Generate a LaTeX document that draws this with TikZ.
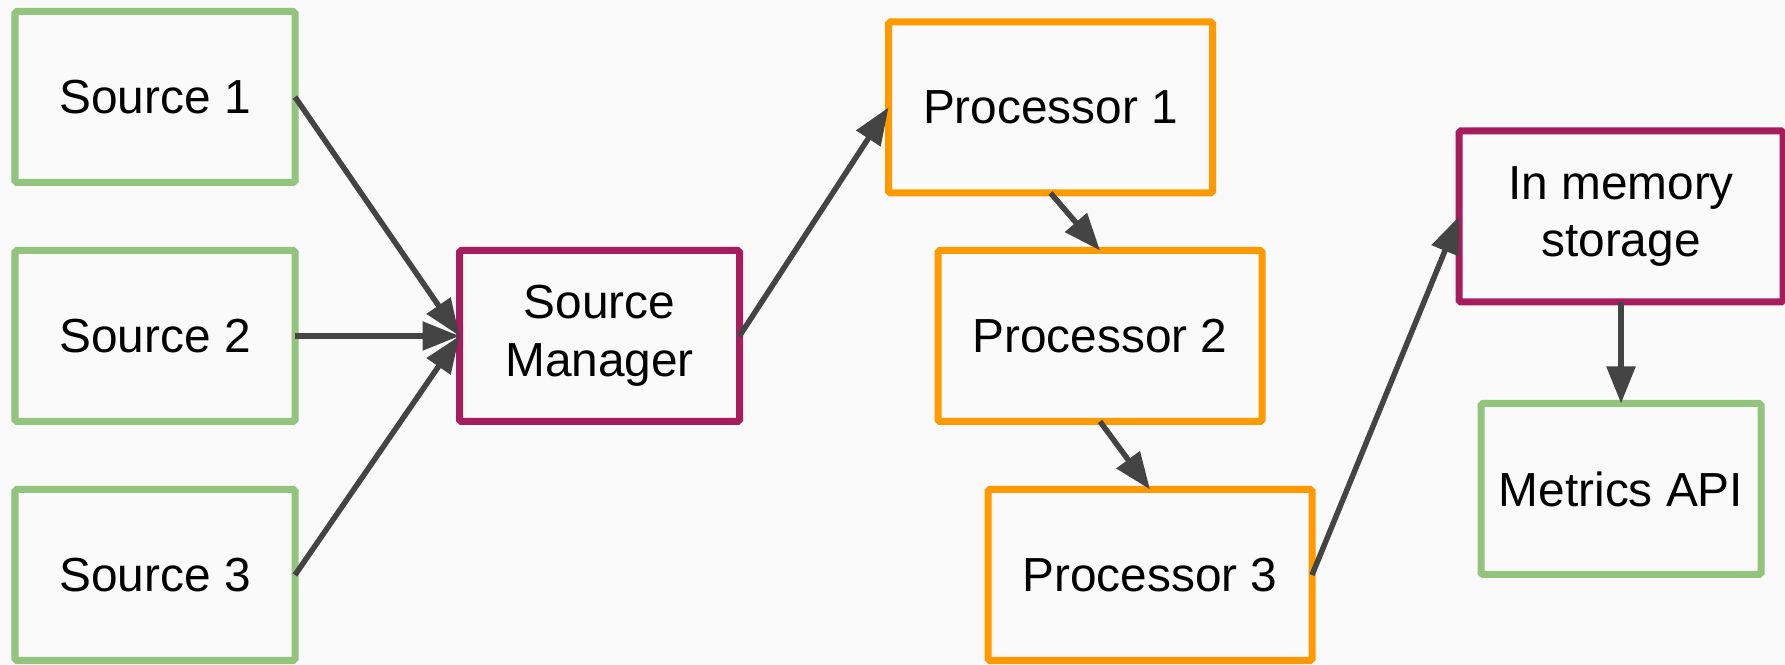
\documentclass[tikz,border=0pt]{standalone}
\usepackage{fontspec}
\setmainfont{Liberation Sans}
\usetikzlibrary{arrows.meta}
\definecolor{srcgreen}{HTML}{93C47D}
\definecolor{mgrpurple}{HTML}{A61C5C}
\definecolor{procorange}{HTML}{FF9900}
\definecolor{linkgray}{HTML}{444444}
\definecolor{bggray}{HTML}{FAFAFA}
\tikzset{
	box/.style={draw, line width=0.07cm, rounded corners=0.5pt, inner sep=0, outer sep=0,
		minimum width=2.80cm, minimum height=1.71cm, align=center,
		font=\fontsize{13.6}{16.4}\selectfont},
	procbox/.style={box, draw=procorange, minimum width=3.24cm},
	link/.style={draw=linkgray, line width=0.055cm, -{Triangle[length=0.37cm, width=0.28cm]}}
}

\begin{document}
\begin{tikzpicture}
	%%%%% START %%%%%
	
	\fill[bggray] (0, 0) rectangle (17.85, -6.65);
	\useasboundingbox (0, 0) rectangle (17.85, -6.65);
	
	\node[box, draw=srcgreen] (src1) at (1.55, -0.97) {Source 1};
	\node[box, draw=srcgreen] (src2) at (1.55, -3.36) {Source 2};
	\node[box, draw=srcgreen] (src3) at (1.55, -5.75) {Source 3};
	
	\node[box, draw=mgrpurple] (mgr) at (5.995, -3.36) {Source\\Manager};
	
	\node[procbox] (proc1) at (10.505, -1.075) {Processor 1};
	\node[procbox] (proc2) at (11.00, -3.36) {Processor 2};
	\node[procbox] (proc3) at (11.50, -5.75) {Processor 3};
	
	\node[box, draw=mgrpurple, minimum width=3.24cm] (store) at (16.21, -2.165) {In memory\\storage};
	\node[box, draw=srcgreen] (api) at (16.21, -4.89) {Metrics API};
	
	\draw[link] (src1.east) -- (mgr.west);
	\draw[link] (src2.east) -- (mgr.west);
	\draw[link] (src3.east) -- (mgr.west);
	\draw[link] (mgr.east) -- (proc1.west);
	\draw[link] (proc1.south) -- (proc2.north);
	\draw[link] (proc2.south) -- (proc3.north);
	\draw[link] (proc3.east) -- (store.west);
	\draw[link] (store.south) -- (api.north);
	
	%%%%% END %%%%%
\end{tikzpicture}
\end{document}
